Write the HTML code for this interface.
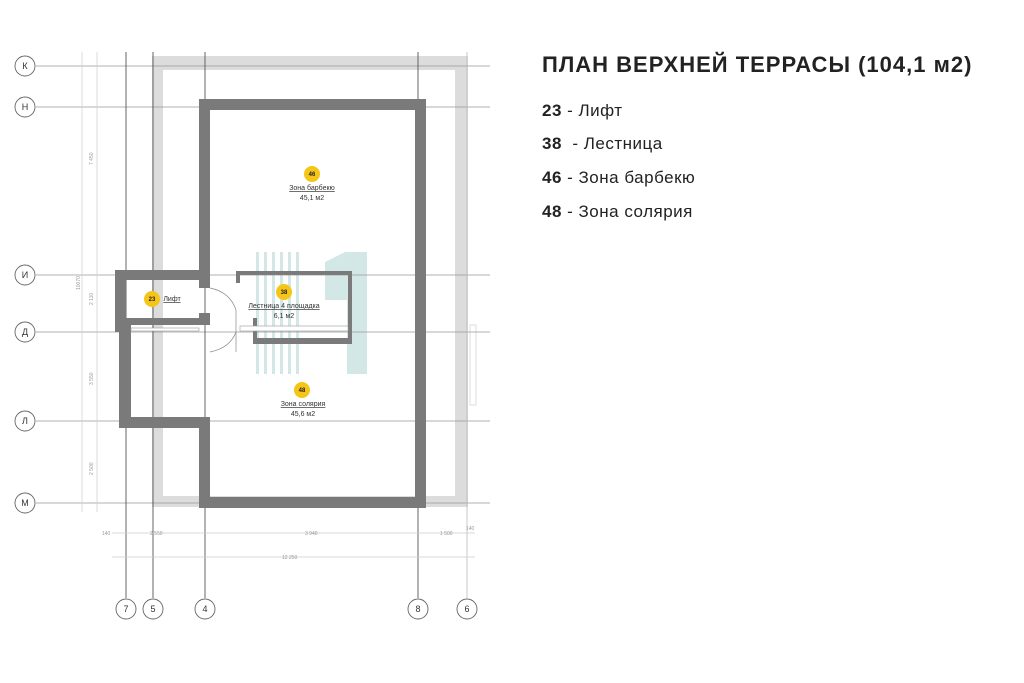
<!DOCTYPE html>
<html><head><meta charset="utf-8"><style>
html,body{margin:0;padding:0;background:#fff;width:1024px;height:683px;overflow:hidden}
.t{position:absolute;font-family:"Liberation Sans",Arial,sans-serif;color:#222}
</style></head><body>
<svg width="1024" height="683" style="position:absolute;left:0;top:0" font-family="Liberation Sans, sans-serif">
<g fill="#d3e8e6">
<rect x="256" y="252" width="3" height="122"/><rect x="264" y="252" width="3" height="122"/><rect x="272" y="252" width="3" height="122"/><rect x="280" y="252" width="3" height="122"/><rect x="288" y="252" width="3" height="122"/><rect x="296" y="252" width="3" height="122"/>
<path d="M325 262 L345 252 L367 252 L367 374 L347 374 L347 300 L325 300 Z"/>
</g>
<path d="M152 56 H468 V507 H152 Z M163 70 V496 H455 V70 Z" fill="#dcdcdc" fill-rule="evenodd"/>
<rect x="470" y="325" width="6" height="80" fill="none" stroke="#ddd"/>
<g stroke="#999" stroke-width="0.8">
<line x1="36" y1="66" x2="490" y2="66"/><line x1="36" y1="107" x2="490" y2="107"/>
<line x1="36" y1="275" x2="490" y2="275"/><line x1="36" y1="332" x2="490" y2="332"/>
<line x1="36" y1="421" x2="490" y2="421"/><line x1="36" y1="503" x2="490" y2="503"/>
</g>
<g stroke="#555" stroke-width="0.9">
<line x1="126" y1="52" x2="126" y2="598"/><line x1="153" y1="52" x2="153" y2="598"/>
<line x1="205" y1="52" x2="205" y2="598"/><line x1="418" y1="52" x2="418" y2="598"/>
</g>
<line x1="467" y1="52" x2="467" y2="598" stroke="#bbb" stroke-width="0.8"/>
<g stroke="#ccc" stroke-width="0.7">
<line x1="82" y1="52" x2="82" y2="512"/><line x1="97" y1="52" x2="97" y2="512"/>
<line x1="112" y1="533" x2="475" y2="533"/><line x1="112" y1="557" x2="475" y2="557"/>
</g>
<g font-size="5" fill="#999">
<text x="93" y="165" transform="rotate(-90 93 165)">7 450</text>
<text x="93" y="305" transform="rotate(-90 93 305)">2 110</text>
<text x="80" y="290" transform="rotate(-90 80 290)">10070</text>
<text x="93" y="385" transform="rotate(-90 93 385)">3 550</text>
<text x="93" y="475" transform="rotate(-90 93 475)">2 500</text>
<text x="102" y="535">140</text><text x="150" y="535">2 550</text><text x="305" y="535">3 940</text>
<text x="440" y="535">1 500</text><text x="466" y="530">140</text><text x="282" y="559">12 250</text>
</g>
<g fill="#7a7a7a">
<rect x="199" y="99" width="227" height="11"/>
<rect x="415" y="99" width="11" height="409"/>
<rect x="199" y="497" width="227" height="11"/>
<rect x="199" y="99" width="11" height="177"/>
<rect x="115" y="270" width="95" height="10"/>
<rect x="115" y="270" width="11" height="62"/>
<rect x="199" y="270" width="11" height="18"/>
<rect x="199" y="313" width="11" height="12"/>
<rect x="119" y="318" width="91" height="7"/>
<rect x="119" y="325" width="12" height="103"/>
<rect x="119" y="417" width="91" height="11"/>
<rect x="199" y="417" width="11" height="91"/>
<rect x="236" y="271" width="116" height="4"/>
<rect x="348" y="271" width="4" height="73"/>
<rect x="253" y="338" width="99" height="6"/>
<rect x="253" y="318" width="4" height="26"/>
<rect x="236" y="271" width="4" height="12"/>
</g>
<rect x="131" y="328" width="68" height="3" fill="#fff" stroke="#999" stroke-width="0.6"/>
<rect x="240" y="326" width="108" height="5" fill="#fff" stroke="#999" stroke-width="0.6"/>
<g fill="none" stroke="#888" stroke-width="0.7">
<path d="M210 288 Q230 292 236 310"/><path d="M210 352 Q230 348 236 332"/><line x1="236" y1="310" x2="236" y2="352"/>
</g>
<g fill="#f5c518"><circle cx="312" cy="174" r="8"/><circle cx="284" cy="292" r="8"/><circle cx="152" cy="299" r="8"/><circle cx="302" cy="390" r="8"/></g>
<g font-size="6" font-weight="bold" text-anchor="middle" fill="#222">
<text x="312" y="176">46</text><text x="284" y="294">38</text><text x="152" y="301">23</text><text x="302" y="392">48</text></g>
<g font-size="7" text-anchor="middle" fill="#333">
<text x="312" y="190" text-decoration="underline">Зона барбекю</text><text x="312" y="200">45,1 м2</text>
<text x="284" y="308" text-decoration="underline">Лестница 4 площадка</text><text x="284" y="318">6,1 м2</text>
<text x="172" y="301" text-decoration="underline">Лифт</text>
<text x="303" y="406" text-decoration="underline">Зона солярия</text><text x="303" y="416">45,6 м2</text>
</g>
<g fill="#fff" stroke="#666" stroke-width="0.9">
<circle cx="25" cy="66" r="10"/><circle cx="25" cy="107" r="10"/><circle cx="25" cy="275" r="10"/><circle cx="25" cy="332" r="10"/><circle cx="25" cy="421" r="10"/><circle cx="25" cy="503" r="10"/>
<circle cx="126" cy="609" r="10"/><circle cx="153" cy="609" r="10"/><circle cx="205" cy="609" r="10"/><circle cx="418" cy="609" r="10"/><circle cx="467" cy="609" r="10"/>
</g>
<g font-size="9" text-anchor="middle" fill="#333">
<text x="25" y="69">К</text><text x="25" y="110">Н</text><text x="25" y="278">И</text><text x="25" y="335">Д</text><text x="25" y="424">Л</text><text x="25" y="506">М</text>
<text x="126" y="612">7</text><text x="153" y="612">5</text><text x="205" y="612">4</text><text x="418" y="612">8</text><text x="467" y="612">6</text>
</g>
</svg>
<div class="t" style="left:542px;top:52px;font-size:22px;font-weight:bold;letter-spacing:1px;white-space:nowrap">ПЛАН ВЕРХНЕЙ ТЕРРАСЫ (104,1 м2)</div>
<div class="t" style="left:542px;top:101px;font-size:17px;letter-spacing:0.5px"><b>23</b> - Лифт</div>
<div class="t" style="left:542px;top:134px;font-size:17px;letter-spacing:0.5px"><b>38</b> &nbsp;- Лестница</div>
<div class="t" style="left:542px;top:168px;font-size:17px;letter-spacing:0.5px"><b>46</b> - Зона барбекю</div>
<div class="t" style="left:542px;top:202px;font-size:17px;letter-spacing:0.5px"><b>48</b> - Зона солярия</div>
</body></html>
